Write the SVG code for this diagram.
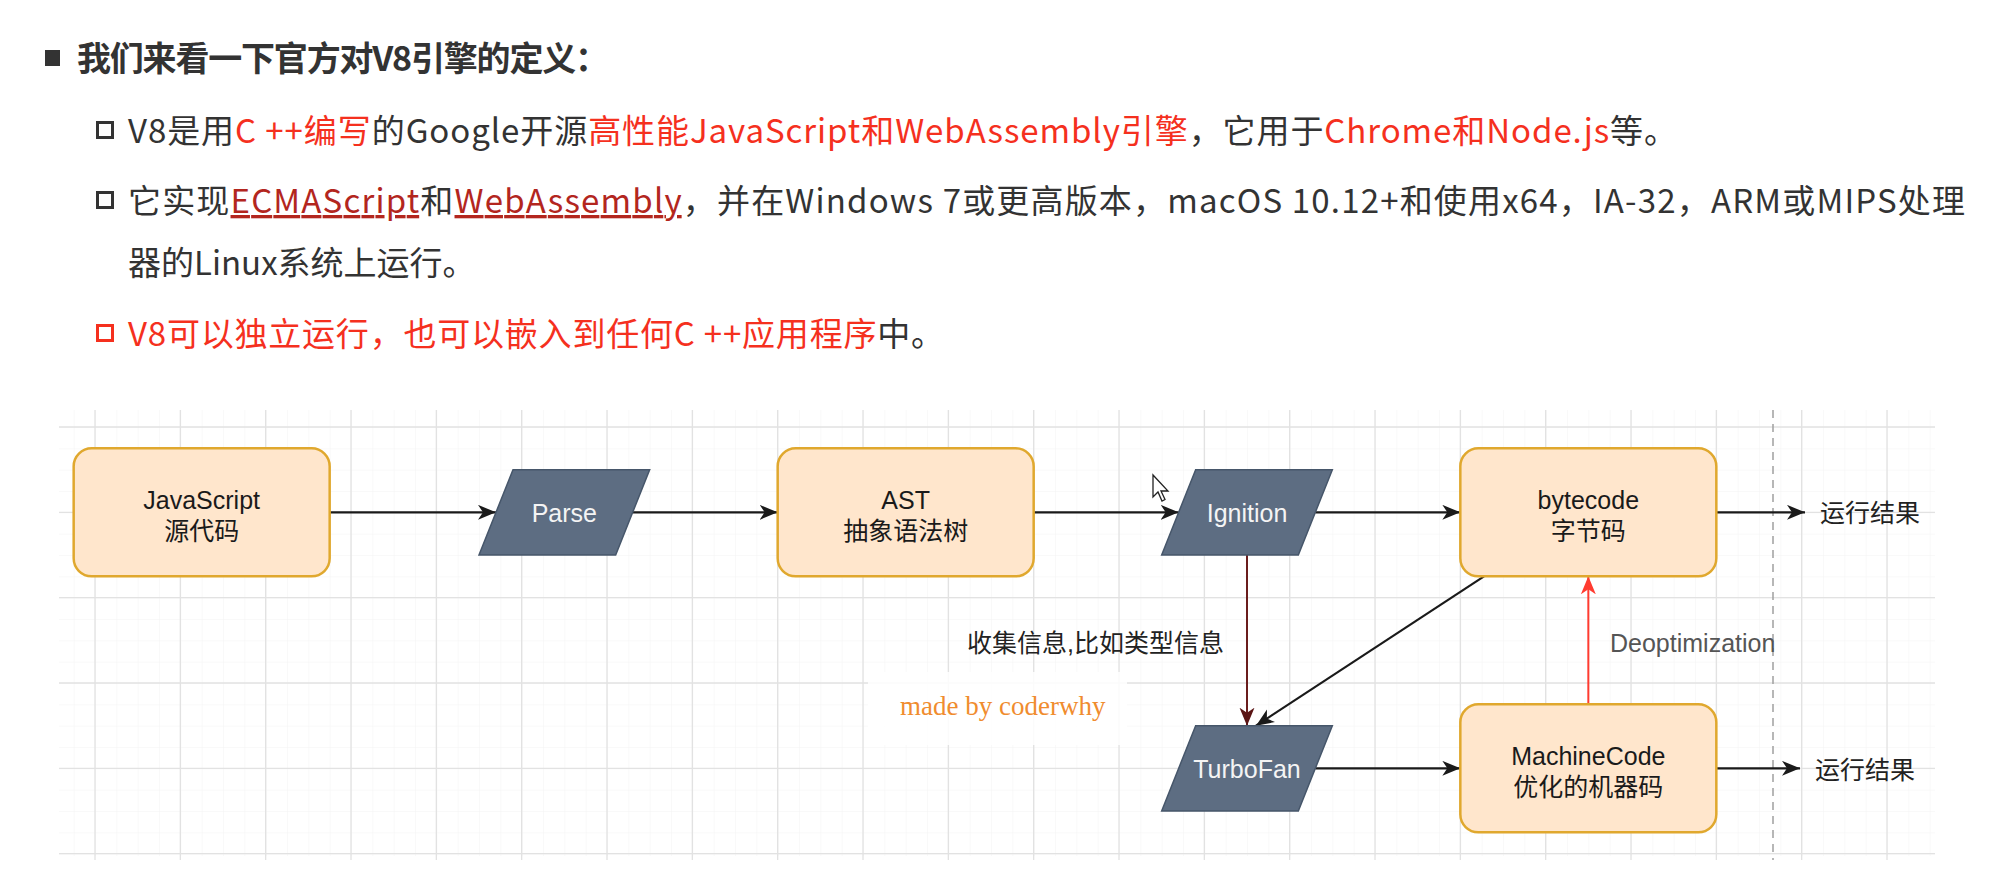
<svg xmlns="http://www.w3.org/2000/svg" width="2001" height="896" viewBox="0 0 2001 896">
<style>
.hd{font-family:'Noto Sans CJK SC','Liberation Sans',sans-serif;font-size:33px;fill:#333}
.ttl{font-family:'Noto Sans CJK SC','Liberation Sans',sans-serif;font-size:34px;font-weight:bold;fill:#333}
.red{fill:#F5301E}
.ul{fill:#B3261E;text-decoration:underline}
.box{fill:#FFE6CC;stroke:#E0A82E;stroke-width:2.5}
.par{fill:#5D6D82;stroke:#46566A;stroke-width:1.5}
.nt{font-family:'Liberation Sans','Noto Sans CJK SC',sans-serif;font-size:25px;fill:#1a1a1a;text-anchor:middle}
.pt{font-family:'Liberation Sans','Noto Sans CJK SC',sans-serif;font-size:25px;fill:#F4F4F4;text-anchor:middle}
.lb{font-family:'Liberation Sans','Noto Sans CJK SC',sans-serif;font-size:25px;fill:#222}
.e{fill:none;stroke:#1a1a1a;stroke-width:2.2}
</style>
<defs>
<pattern id="minor" patternUnits="userSpaceOnUse" x="95" y="427" width="21.333" height="21.333">
<path d="M0 0H21.333M0 0V21.333" stroke="#f4f4f4" stroke-width="1" fill="none"/>
</pattern>
<marker id="ab" markerUnits="userSpaceOnUse" markerWidth="20" markerHeight="16" refX="18" refY="7.5" orient="auto"><path d="M0,0 L18,7.5 L0,15 L5,7.5 Z" fill="#1a1a1a"/></marker>
<marker id="am" markerUnits="userSpaceOnUse" markerWidth="20" markerHeight="16" refX="18" refY="7.5" orient="auto"><path d="M0,0 L18,7.5 L0,15 L5,7.5 Z" fill="#5a1414"/></marker>
<marker id="ar" markerUnits="userSpaceOnUse" markerWidth="20" markerHeight="16" refX="18" refY="7.5" orient="auto"><path d="M0,0 L18,7.5 L0,15 L5,7.5 Z" fill="#FF3B30"/></marker>
</defs>
<rect width="2001" height="896" fill="#fff"/>

<g id="heading">
<rect x="45" y="50" width="15" height="16" fill="#333"/>
<text class="ttl" x="77" y="71" textLength="532">我们来看一下官方对V8引擎的定义：</text>
<rect x="97.5" y="122.5" width="15" height="15" fill="none" stroke="#333" stroke-width="3"/>
<text class="hd" x="128" y="143" textLength="1549">V8是用<tspan class="red">C ++编写</tspan>的Google开源<tspan class="red">高性能JavaScript和WebAssembly引擎</tspan>，它用于<tspan class="red">Chrome和Node.js</tspan>等。</text>
<rect x="97.5" y="192.5" width="15" height="15" fill="none" stroke="#333" stroke-width="3"/>
<text class="hd" x="128" y="213" textLength="1837">它实现<tspan class="ul">ECMAScript</tspan>和<tspan class="ul">WebAssembly</tspan>，并在Windows 7或更高版本，macOS 10.12+和使用x64，IA-32，ARM或MIPS处理</text>
<text class="hd" x="128" y="275">器的Linux系统上运行。</text>
<rect x="97.5" y="325.5" width="15" height="15" fill="none" stroke="#F5301E" stroke-width="3"/>
<text class="hd" x="128" y="346" textLength="816"><tspan class="red">V8可以独立运行，也可以嵌入到任何C ++应用程序</tspan>中。</text>
</g>

<g id="grid">
<rect x="59" y="410" width="1876" height="446" fill="url(#minor)"/>
<path fill="none" stroke="#e2e2e2" stroke-width="1.3" d="M95 410V860M180.33 410V860M265.67 410V860M351 410V860M436.33 410V860M521.67 410V860M607 410V860M692.33 410V860M777.67 410V860M863 410V860M948.33 410V860M1033.67 410V860M1119 410V860M1204.33 410V860M1289.67 410V860M1375 410V860M1460.33 410V860M1545.67 410V860M1631 410V860M1716.33 410V860M1801.67 410V860M1887 410V860M59 427H1935M59 512.33H1935M59 597.67H1935M59 683H1935M59 768.33H1935M59 853.67H1935"/>
<path d="M1773 410V860" stroke="#a0a0a0" stroke-width="1.5" stroke-dasharray="8 6" fill="none"/>
</g>

<g id="watermark">
<rect x="868" y="672" width="259" height="73" fill="#fff" opacity="0.85"/>
<text x="900" y="715" font-family="'Liberation Serif',serif" font-size="27" fill="#F08C2E">made by coderwhy</text>
</g>

<g id="connectors">
<path class="e" d="M329.67 512.33H496" marker-end="url(#ab)"/>
<path class="e" d="M632.67 512.33H777.67" marker-end="url(#ab)"/>
<path class="e" d="M1033.67 512.33H1178.67" marker-end="url(#ab)"/>
<path class="e" d="M1315.33 512.33H1460.33" marker-end="url(#ab)"/>
<path class="e" d="M1716.33 512.33H1805" marker-end="url(#ab)"/>
<path d="M1247 555V725.67" fill="none" stroke="#6a1d1d" stroke-width="2" marker-end="url(#am)"/>
<path class="e" d="M1484 576.33L1256 725.67" marker-end="url(#ab)"/>
<path class="e" d="M1315.33 768.33H1460.33" marker-end="url(#ab)"/>
<path d="M1588.33 704.33V576.33" fill="none" stroke="#FF3B30" stroke-width="2" marker-end="url(#ar)"/>
<path class="e" d="M1716.33 768.33H1800" marker-end="url(#ab)"/>
<text class="lb" x="967" y="652" font-family="'Noto Sans CJK SC',sans-serif">收集信息,比如类型信息</text>
<text class="lb" x="1610" y="652" fill="#555" style="fill:#555">Deoptimization</text>
</g>

<g id="js">
<rect class="box" x="73.67" y="448.33" width="256" height="128" rx="18"/>
<text class="nt" x="201.67" y="509">JavaScript</text>
<text class="nt" x="201.67" y="540">源代码</text>
</g>
<g id="parse">
<polygon class="par" points="479,555 513,469.67 649.67,469.67 615.67,555"/>
<text class="pt" x="564.33" y="522">Parse</text>
</g>
<g id="ast">
<rect class="box" x="777.67" y="448.33" width="256" height="128" rx="18"/>
<text class="nt" x="905.67" y="509">AST</text>
<text class="nt" x="905.67" y="540">抽象语法树</text>
</g>
<g id="ignition">
<polygon class="par" points="1161.67,555 1195.67,469.67 1332.33,469.67 1298.33,555"/>
<text class="pt" x="1247" y="522">Ignition</text>
</g>
<g id="bytecode">
<rect class="box" x="1460.33" y="448.33" width="256" height="128" rx="18"/>
<text class="nt" x="1588.33" y="509">bytecode</text>
<text class="nt" x="1588.33" y="540">字节码</text>
</g>
<g id="result1">
<text class="lb" x="1820" y="522">运行结果</text>
</g>
<g id="turbofan">
<polygon class="par" points="1161.67,811 1195.67,725.67 1332.33,725.67 1298.33,811"/>
<text class="pt" x="1247" y="778">TurboFan</text>
</g>
<g id="machinecode">
<rect class="box" x="1460.33" y="704.33" width="256" height="128" rx="18"/>
<text class="nt" x="1588.33" y="765">MachineCode</text>
<text class="nt" x="1588.33" y="796">优化的机器码</text>
</g>
<g id="result2">
<text class="lb" x="1815" y="779">运行结果</text>
</g>
<g id="cursor">
<path d="M1153 475V497L1158 492L1162 501L1165 499.5L1161 491L1168 491Z" fill="#fff" stroke="#222" stroke-width="1.3"/>
</g>
</svg>
